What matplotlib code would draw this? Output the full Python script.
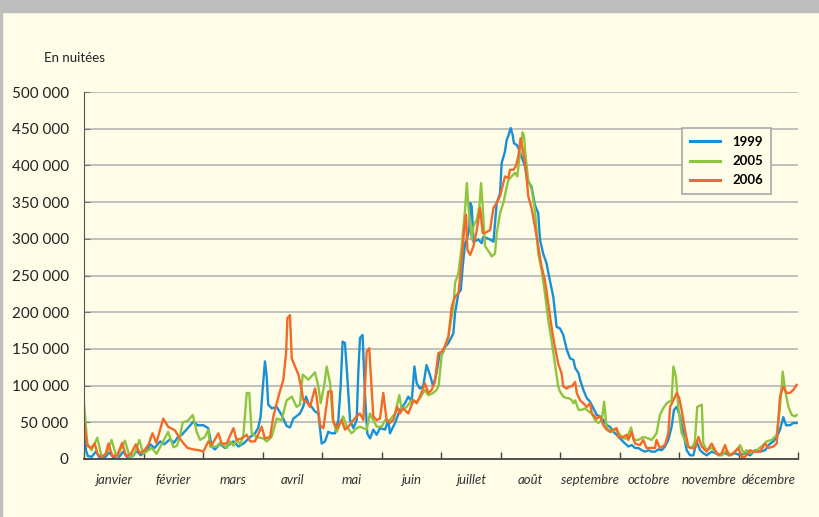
import numpy as np
import matplotlib.pyplot as plt
from matplotlib.patches import Rectangle
from matplotlib.lines import Line2D
from matplotlib.colors import LinearSegmentedColormap

plt.rcParams['font.family'] = ['Lato', 'DejaVu Sans']

# jour de l'année (0-365) et nuitées en milliers
jours_1999 = [0, 1, 2, 4, 6, 8, 11, 13, 15, 18, 20, 22, 25, 27, 29, 32, 34, 36, 39, 41, 44, 46, 48, 50, 53, 56, 58, 61,
              63.5, 65.3, 67, 69.5, 72, 76.4, 79, 81.5, 85, 87.4, 89, 90.3, 91.3, 92.5, 93.4, 94.2, 96, 98.5, 101,
              103.6, 105.3, 107, 110.4, 112, 113.5, 114.7, 116.4, 118, 119.8, 121.5, 123.2, 124.9, 126.6, 128.3, 130,
              131.2, 132.2, 133.4, 134.6, 136, 137.7, 139.4, 140.2, 141.1, 142.4, 143.6, 144.8, 146.2, 147.9, 149.6,
              151.3, 153.9, 155.6, 156.4, 159, 161.5, 164.1, 165.8, 167.5, 168.9, 170.1, 171.7, 173.4, 175.1, 176.8,
              178.5, 180.2, 181.9, 183.7, 184.4, 186.3, 188.8, 189.7, 191.4, 192.6, 193.6, 194.8, 195.7, 196.9, 197.4,
              198.2, 199.1, 201.6, 203.3, 204.2, 205.9, 207.6, 209.3, 211, 212.7, 213.5, 215.2, 216.1, 216.9, 218.1,
              219.1, 219.8, 221.2, 222.5, 223.7, 225.4, 226.6, 228.8, 230.5, 232.2, 233.1, 234.7, 236.4, 238.1, 239.9,
              241.6, 243.3, 245, 246.8, 248.5, 250.2, 251.1, 252.8, 253.6, 255.3, 257, 258.7, 260.4, 262.1, 263.8,
              265.5, 267.2, 268.9, 270.6, 272.3, 274, 276.6, 278.3, 280, 281.7, 283.4, 285.1, 286.8, 288.5, 290.2,
              291.9, 293.6, 295.3, 297, 298.7, 300.4, 301.6, 303, 304.7, 306.4, 308.1, 309.8, 311.5, 313.2, 314.9,
              316.6, 318.3, 320.9, 322.6, 325.1, 327.7, 330.3, 332.8, 335.4, 338, 340.5, 343.1, 345.6, 348.2, 349.9,
              352.4, 354.1, 355.8, 357.5, 358.9, 360.9, 362.6, 364.3]
nuitees_1999 = [45, 12, 4, 3, 10, 2, 3, 9, 2, 3, 10, 3, 4, 11, 5, 12, 20, 15, 24, 20, 27, 22, 30, 33, 42, 51, 46, 46,
                42, 17, 13, 21, 15, 24, 17, 21, 30, 35, 42, 58, 94, 133, 112, 74, 69, 71, 60,
                45, 43, 55, 62, 71, 85, 76, 71, 65, 62, 21, 24, 37, 35, 35, 53,
                99, 160, 158, 112, 53, 42, 53, 117, 165, 169, 90, 35, 28, 40, 33,
                42, 40, 53, 35, 49, 67, 76, 85, 78, 126, 103, 96, 99, 128, 115,
                99, 117, 145, 146, 152, 158, 171, 199, 226, 230, 262, 294, 299, 312, 349,
                344, 296, 299, 294, 303, 301, 299, 296, 349, 362, 403, 419, 435, 440, 451,
                442, 430, 428, 421, 412, 399, 380, 371, 346, 335, 299, 280, 267, 244, 221,
                180, 178, 169, 149, 137, 135, 124, 117, 108, 94, 83, 78, 69, 60, 58,
                53, 46, 44, 37, 33, 28, 21, 17, 19, 15, 15, 12, 10, 12, 10,
                10, 13, 12, 17, 26, 44, 67, 71, 58, 35, 12, 5, 5, 24, 12,
                8, 5, 10, 8, 5, 8, 5, 8, 5, 8, 5, 12, 10, 12, 19,
                24, 30, 40, 57, 46, 46, 49, 49]

jours_2005 = [0, 1.7, 3.9, 6.8, 9, 11.6, 14.1, 16.7, 20.9, 23.5, 26, 28.3, 30.3, 34.6, 37.1, 43, 45.7, 47.5, 49, 50.5,
              53, 55.6, 57.6, 59.3, 61.8, 63.6, 64.4, 67.8, 69.5, 71.2, 73, 74.7, 76.5, 78, 80, 81.5, 83.2, 84.5, 85.7,
              88.3, 91.7, 93.4, 95.9, 98.5, 101, 103.6, 106.2, 108.7, 110.4, 111.8, 114.7, 118.1, 119.8, 121, 122.7,
              124.1, 125.8, 127.2, 129.2, 132.5, 134.3, 136.8, 139.4, 141.1, 142.8, 144.5, 146.2, 147.9, 149.6, 152.2,
              153.9, 156.4, 159, 161.2, 162.4, 164.9, 167.5, 170.1, 171.7, 174.3, 176, 178.5, 180.2, 181.3, 182.8,
              184.6, 186.3, 188.8, 189.7, 191.4, 193.1, 194.8, 195.7, 196.5, 198.2, 199.1, 200.8, 202.1, 203, 203.8,
              205, 207.6, 208.4, 210.1, 211, 212.7, 214.4, 216.1, 216.9, 218.6, 220.3, 221.5, 222.9, 224.2, 224.9,
              225.9, 227.1, 228.8, 230.5, 232.2, 233.9, 235.6, 237.3, 239, 240.7, 242.4, 243.3, 245, 246.7, 247.7,
              249.4, 250.2, 251.1, 252.8, 254.5, 256.2, 257.9, 259.6, 261.3, 263, 264.7, 265.9, 267.2, 269.8, 272.3,
              274, 275.7, 277.4, 279.7, 280.8, 283.4, 285.9, 288.5, 290.2, 292.7, 294.4, 296.1, 297.9, 299.2, 300.4,
              301.3, 302.6, 303.8, 305.5, 307.2, 308.9, 310.7, 312.3, 313.5, 315.8, 316.6, 318.3, 320.9, 323.4, 326,
              328.6, 330.3, 333.7, 335.4, 337.1, 338.8, 340.5, 343.9, 346.4, 349, 351.6, 354.1, 355.8, 357.2, 358.4,
              360.1, 361.8, 363.5, 364.3]
nuitees_2005 = [75, 21, 12, 29, 3, 8, 26, 2, 25, 2, 8, 26, 7, 15, 7, 37, 16, 18, 30, 50,
                52, 60, 37, 26, 30, 40, 17, 17, 22, 19, 15, 24, 18, 26, 20, 33, 90, 90, 35,
                30, 28, 24, 30, 55, 53, 80, 85, 71, 74, 115, 108, 118, 99, 76, 99,
                126, 103, 53, 37, 58, 44, 35, 42, 44, 42, 40, 62, 53, 44, 44,
                53, 53, 62, 87, 67, 71, 80, 78, 83, 94, 87, 90, 94, 100, 140,
                153, 167, 208, 240, 253, 290, 340, 376, 344, 299, 317, 326, 344, 376, 344,
                290, 280, 276, 280, 308, 335, 349, 371, 380, 385, 390, 385, 417, 445, 440,
                408, 380, 367, 340, 280, 258, 226, 190, 162, 130, 99, 92, 85, 83, 83,
                80, 76, 80, 67, 67, 69, 65, 62, 53, 49, 53, 78, 42, 37, 40,
                33, 28, 28, 43, 26, 26, 30, 28, 26, 35, 60, 69, 76, 78, 80,
                126, 112, 71, 35, 26, 17, 15, 24, 71, 74, 21, 12, 15, 8, 5,
                12, 5, 12, 19, 8, 12, 8, 12, 17, 24, 26, 33, 71, 119, 94,
                71, 60, 58, 60]

jours_2006 = [0, 1.7, 3.5, 5.5, 7, 9, 11, 12.5, 14.5, 17, 19.5, 21.5, 24, 26.5, 28.5, 31, 33, 35, 37, 40.5, 43, 46.5,
              49, 51, 53, 56, 59, 61, 63.6, 65.3, 68.7, 70.4, 72.9, 76.4, 78, 80.6, 83.2, 84.9, 87.4, 90.8, 92.5, 95.1,
              96.8, 99.4, 101.9, 103.3, 104, 105.3, 106.2, 107.9, 109.6, 111.3, 112.1, 113.8, 115.5, 118.1, 118.9,
              120.7, 122.4, 124.9, 126.6, 127.4, 129.2, 131.7, 133.4, 135.1, 137.7, 139.4, 141.1, 142.8, 144.5, 145.8,
              147, 147.9, 149.6, 151.3, 153, 154.7, 156.4, 158.1, 160.1, 161.5, 163.2, 165.8, 168.4, 170.1, 171.7,
              174.3, 176, 177.7, 179.4, 181.1, 182.8, 184.4, 186.3, 188, 189.7, 191.4, 193.1, 194.3, 195.3, 196,
              197.4, 199.1, 200.8, 202.5, 203.8, 205, 207.6, 209.3, 211, 212.7, 215.2, 216.9, 217.8, 219.5, 220.8,
              222, 223.2, 224.6, 225.9, 227.1, 228.8, 230.5, 232.2, 233.9, 235.6, 237.3, 239, 240.7, 242.4, 244.1,
              245, 246.7, 248.4, 249.4, 251.1, 251.9, 253.6, 255.3, 257, 258.7, 259.6, 262.1, 263.8, 265.5, 267.2,
              268.9, 270.6, 272.3, 273.2, 275.7, 277.4, 278.3, 280, 281.7, 284.2, 285.9, 287.6, 290.2, 291.9, 292.7,
              294.4, 297, 298.7, 299.6, 301.3, 303, 304.3, 305.5, 307.2, 308.9, 309.8, 312.3, 314.1, 315.8, 318.3,
              320.9, 322.6, 324.3, 326, 327.7, 329.4, 331.9, 334.5, 336.2, 337.9, 340.5, 342.2, 345.6, 348.2, 349.9,
              352.4, 354.1, 355.8, 357.5, 359.2, 360.9, 362.6, 364.3]
nuitees_2006 = [50, 18, 15, 21, 6, 3, 6, 21, 4, 5, 22, 4, 7, 20, 8, 12, 20, 35, 22, 55, 44, 39,
                28, 21, 15, 13, 12, 10, 24, 19, 35, 21, 21, 42, 26, 28, 33, 24, 24, 44, 28, 30,
                58, 85, 108, 144, 192, 196, 137, 126, 115, 94, 80, 78, 71, 96, 85,
                46, 42, 92, 92, 51, 42, 53, 40, 44, 53, 58, 62, 53, 146, 151,
                99, 58, 53, 55, 90, 53, 49, 53, 71, 62, 69, 62, 80, 76, 85,
                103, 90, 94, 105, 144, 146, 153, 167, 208, 221, 226, 271, 312, 333, 285,
                278, 290, 312, 342, 308, 308, 312, 342, 349, 358, 385, 383, 394, 394, 399,
                412, 437, 417, 394, 358, 342, 317, 290, 262, 244, 212, 180, 153, 130, 117,
                99, 96, 99, 99, 105, 90, 80, 76, 71, 76, 62, 55, 58, 46, 40,
                37, 40, 42, 30, 30, 33, 26, 37, 21, 19, 26, 15, 15, 15, 26,
                15, 19, 35, 71, 80, 90, 83, 67, 40, 17, 15, 15, 30, 17, 10,
                21, 12, 5, 8, 19, 5, 8, 15, 3, 3, 12, 10, 10, 21, 15,
                17, 21, 85, 99, 90, 90, 94, 101]

mois = ['janvier', 'février', 'mars', 'avril', 'mai', 'juin', 'juillet',
        'août', 'septembre', 'octobre', 'novembre', 'décembre']

fond = '#fffde8'
fig = plt.figure(figsize=(8.19, 5.17), dpi=100)
fig.patch.set_facecolor(fond)

# bandeau du haut et bord gauche
fig.patches.append(Rectangle((0, 1 - 12 / 517), 1, 12 / 517, transform=fig.transFigure,
                             color='#bebebe', zorder=0))
fig.patches.append(Rectangle((0, 0), 2 / 819, 1, transform=fig.transFigure,
                             color='#bebebe', zorder=0))
bar = fig.add_axes([0, 1 - 3 / 517, 1, 3 / 517])
grad = np.linspace(0, 1, 256).reshape(1, -1)
cmap = LinearSegmentedColormap.from_list('bandeau', ['#006b35', '#3f9a3a', '#b8d33a'])
bar.imshow(grad, aspect='auto', cmap=cmap)
bar.axis('off')

ax = fig.add_axes([84 / 819, 58 / 517, 714 / 819, 367 / 517])
ax.set_facecolor(fond)

ax.plot(jours_1999, np.array(nuitees_1999) * 1000, color='#1790d5', lw=1.7, label='1999')
ax.plot(jours_2005, np.array(nuitees_2005) * 1000, color='#8dc540', lw=1.7, label='2005')
ax.plot(jours_2006, np.array(nuitees_2006) * 1000, color='#f26a28', lw=1.7, label='2006')

ax.set_xlim(0, 365)
ax.set_ylim(0, 500000)
ax.set_yticks(range(0, 500001, 50000))
ax.set_yticklabels([f"{v:,}".replace(',', ' ') for v in range(0, 500001, 50000)])
ax.yaxis.grid(True, color='#b5b5b5', lw=1.2)
ax.set_axisbelow(True)

bornes = [k * 365 / 12 for k in range(13)]
milieux = [(k + 0.5) * 365 / 12 for k in range(12)]
ax.set_xticks(bornes)
ax.set_xticklabels([])
ax.set_xticks(milieux, minor=True)
ax.set_xticklabels(mois, minor=True, fontstyle='italic', fontsize=9.5, color='#333333')
ax.tick_params(axis='x', which='major', direction='in', length=5, color='#444444', width=1)
ax.tick_params(axis='x', which='minor', length=0, pad=11)
ax.tick_params(axis='y', direction='in', length=4, color='#777777', labelsize=11,
               labelcolor='#222222', pad=11)

for s in ['top', 'right']:
    ax.spines[s].set_visible(False)
ax.spines['left'].set_color('#555555')
ax.spines['bottom'].set_color('#444444')
ax.spines['bottom'].set_linewidth(1.3)

fig.text(44 / 819, 1 - 58 / 517, 'En nuitées', fontsize=9.5, va='center', color='#222222')

handles = [Line2D([], [], color='#1790d5', lw=2.2),
           Line2D([], [], color='#8dc540', lw=2.2),
           Line2D([], [], color='#f26a28', lw=2.2)]
leg = ax.legend(handles, ['1999', '2005', '2006'], loc='upper left',
                bbox_to_anchor=((682 - 84) / 714, (459 - 128) / 367), borderaxespad=0,
                prop={'weight': 'bold', 'size': 9.5}, frameon=True, fancybox=False,
                facecolor=fond, edgecolor='#a8a8a8', framealpha=1,
                handlelength=2.3, handletextpad=0.9, labelspacing=0.55, borderpad=0.6)
leg.get_frame().set_linewidth(1.2)

plt.savefig('out.png', dpi=100, facecolor=fond)
